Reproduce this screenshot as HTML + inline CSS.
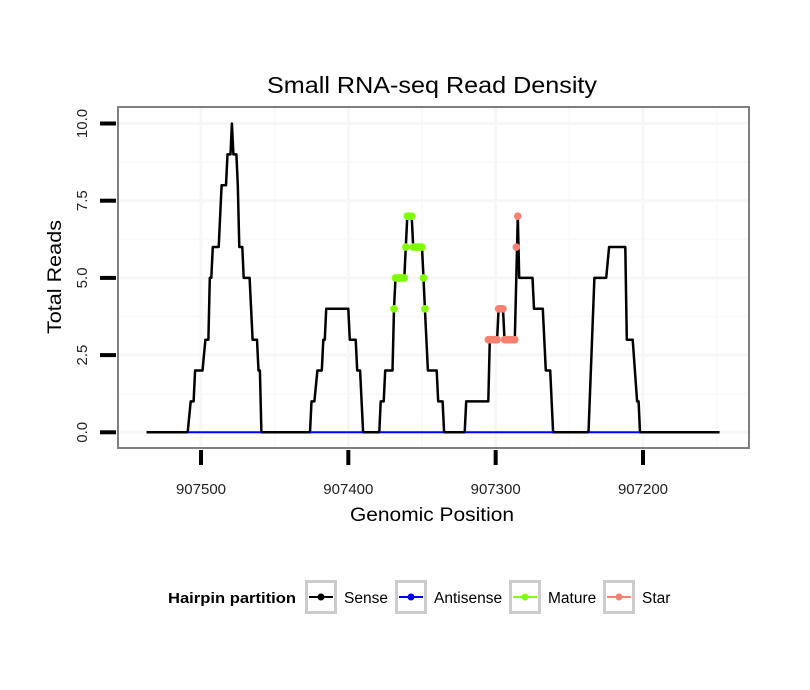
<!DOCTYPE html>
<html><head><meta charset="utf-8"><style>
body{margin:0;background:#fff;}
svg{display:block;font-family:"Liberation Sans",sans-serif;}
</style></head><body>
<svg id="chart" width="810" height="690" xmlns="http://www.w3.org/2000/svg">
<rect width="810" height="690" fill="#fff"/>
<text x="432" y="93" font-size="23" text-anchor="middle" textLength="330" lengthAdjust="spacingAndGlyphs">Small RNA-seq Read Density</text>
<g id="grid"></g>
<g id="series"></g>
<rect x="118" y="107" width="631" height="341" fill="none" stroke="#7f7f7f" stroke-width="2"/>
<g id="axes"></g>
<text x="432" y="521" font-size="19" text-anchor="middle" textLength="164" lengthAdjust="spacingAndGlyphs">Genomic Position</text>
<text transform="translate(61,277) rotate(-90)" font-size="19" text-anchor="middle" textLength="114" lengthAdjust="spacingAndGlyphs">Total Reads</text>
<g id="legend">
<text x="168" y="603" font-size="15" font-weight="bold" textLength="128" lengthAdjust="spacingAndGlyphs">Hairpin partition</text>
</g>
</svg>
<script>
const sensePos=[907537,907509,907507,907505,907504,907499,907497,907495,907494,907493,907492,907488,907486,907483,907482,907480,907479,907478,907476,907475,907474,907472,907471,907467,907465,907462,907461,907460,907459,
907426,907425,907423,907421,907418,907417,907416,907415,907400,907399,907395,907394,907392,907390,
907379,907378,907376,907375,907370,907369,907368,907362,907361,907360,907357,907356,907350,907349,907348,907346,907340,907339,907336,907335,
907321,907320,907305,907304,907299,907298,907295,907294,907287,907285,907284,907275,907274,907268,907267,907266,907263,907261,
907237,907233,907225,907223,907212,907211,907207,907204,907203,907202,907148];
const senseVal=[0,0,1,1,2,2,3,3,5,5,6,6,8,8,9,9,10,9,9,8,6,6,5,5,3,3,2,2,0,
0,1,1,2,2,3,3,4,4,3,3,2,2,0,
0,1,1,2,2,4,5,5,6,7,7,6,6,5,4,2,2,1,1,0,
0,1,1,3,3,4,4,3,3,7,5,5,4,4,3,2,2,0,
0,5,5,6,6,3,3,1,1,0,0];
const antisenseRanges=[[907509,907459],[907426,907390],[907379,907335],[907321,907261],[907237,907202]];
const antisenseVal=[0,0,0,0,0];
const maturePos=[907369,907368,907367,907366,907365,907364,907363,907362,907361,907360,907359,907358,907357,907356,907355,907354,907353,907352,907351,907350,907349,907348];
const matureVal=[4,5,5,5,5,5,5,5,6,7,7,7,7,6,6,6,6,6,6,6,5,4];
const starPos=[907305,907304,907303,907302,907301,907300,907299,907298,907297,907296,907295,907294,907293,907292,907291,907290,907289,907288,907287,907286,907285];
const starVal=[3,3,3,3,3,3,3,4,4,4,4,3,3,3,3,3,3,3,3,6,7];
const xTicks=[907500,907400,907300,907200];
const xMinor=[907450,907350,907250,907150];
const yTicks=[0,2.5,5,7.5,10];
const yTickLabels=["0.0","2.5","5.0","7.5","10.0"];
const yMinor=[1.25,3.75,6.25,8.75];
const legendLabels=["Sense","Antisense","Mature","Star"];
const legendColors=["#000000","#0000ff","#7fff00","#fa8072"];

const NS="http://www.w3.org/2000/svg";
const X=v=>201+(907500-v)*1.4733;
const Y=v=>432.3-v*30.88;
function mk(tag,attrs,parent){const e=document.createElementNS(NS,tag);for(const k in attrs)e.setAttribute(k,attrs[k]);parent.appendChild(e);return e;}
const grid=document.getElementById('grid'),series=document.getElementById('series'),axes=document.getElementById('axes'),legend=document.getElementById('legend');
xMinor.forEach(v=>{if(X(v)>118&&X(v)<749){const l=mk('line',{x1:X(v),x2:X(v),y1:108,y2:447,stroke:'#fafafa','stroke-width':2},grid);

}});
yMinor.forEach(v=>{const l=mk('line',{x1:119,x2:748,y1:Y(v),y2:Y(v),stroke:'#fafafa','stroke-width':2},grid);

});
xTicks.forEach(v=>{const l=mk('line',{x1:X(v),x2:X(v),y1:108,y2:447,stroke:'#f7f7f7','stroke-width':3},grid);

});
yTicks.forEach(v=>{const l=mk('line',{x1:119,x2:748,y1:Y(v),y2:Y(v),stroke:'#f7f7f7','stroke-width':3},grid);

});
const sp=mk('polyline',{points:sensePos.map((p,i)=>X(p).toFixed(1)+','+Y(senseVal[i]).toFixed(1)).join(' '),fill:'none',stroke:'#000','stroke-width':2.5,'stroke-linejoin':'round'},series);


antisenseRanges.forEach((r,i)=>{const l=mk('line',{x1:X(r[0]),x2:X(r[1]),y1:Y(antisenseVal[i]),y2:Y(antisenseVal[i]),stroke:'#0000ff','stroke-width':2},series);

});
maturePos.forEach((p,i)=>{const c=mk('circle',{cx:X(p),cy:Y(matureVal[i]),r:3.8,fill:'#7fff00'},series);

});
starPos.forEach((p,i)=>{const c=mk('circle',{cx:X(p),cy:Y(starVal[i]),r:3.8,fill:'#fa8072'},series);

});
yTicks.forEach((v,i)=>{const l=mk('line',{x1:100,x2:116,y1:Y(v),y2:Y(v),stroke:'#000','stroke-width':4},axes);


const t=mk('text',{transform:`translate(87,${Y(v)}) rotate(-90)`,'font-size':15,'text-anchor':'middle',fill:'#222'},axes);t.textContent=yTickLabels[i];

});
xTicks.forEach(v=>{const l=mk('line',{x1:X(v),x2:X(v),y1:450,y2:465,stroke:'#000','stroke-width':4},axes);


const t=mk('text',{x:X(v),y:494,'font-size':15,'text-anchor':'middle',fill:'#222'},axes);t.textContent=String(v);

});
const keyX=[305,395,509,603];
legendLabels.forEach((lab,i)=>{const g=mk('g',{},legend);


mk('rect',{x:keyX[i]+1.5,y:581.5,width:29,height:31,fill:'#fff',stroke:'#cccccc','stroke-width':3},g);
mk('line',{x1:keyX[i]+4,x2:keyX[i]+28,y1:597,y2:597,stroke:legendColors[i],'stroke-width':2},g);
mk('circle',{cx:keyX[i]+16,cy:597,r:3.5,fill:legendColors[i]},g);
const t=mk('text',{x:keyX[i]+39,y:603,'font-size':15.5},g);t.textContent=lab;});
</script>
</body></html>
